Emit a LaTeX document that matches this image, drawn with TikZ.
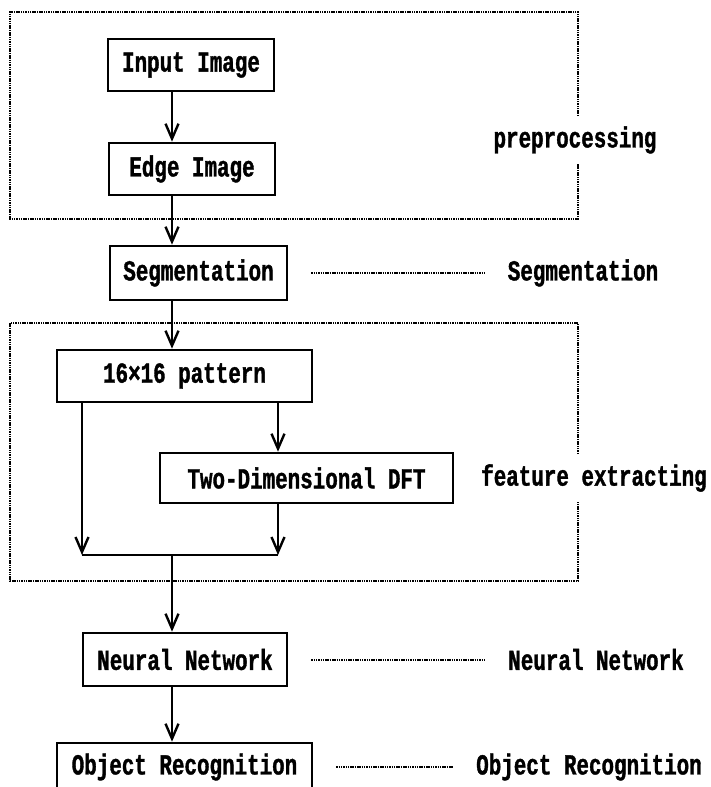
\documentclass[tikz,border=0pt]{standalone}
\usepackage{fontspec}
\newfontfamily\diagfont{Liberation Mono}[FakeStretch=0.72, BoldFeatures={FakeBold=1.2}]
\usepackage{tikz}
\usetikzlibrary{arrows.meta, positioning}
\tikzstyle{block} = [rectangle, draw, line width=2.6pt, minimum height=52pt, inner sep=0pt]
\tikzstyle{sidelabel} = [inner sep=10pt]
\tikzstyle{arrow} = [-{Straight Barb[length=15pt, width=13pt]}, line width=2.4pt]
\tikzstyle{link} = [line width=2.4pt]
\tikzstyle{leader} = [dash pattern=on 1.5pt off 0.8pt, line width=2pt, shorten <=23pt, shorten >=13pt]
\tikzstyle{frame} = [dash pattern=on 1.5pt off 0.8pt, line width=2pt]

\begin{document}
\begin{tikzpicture}[x=1pt, y=-1pt, font={\diagfont\bfseries\fontsize{29}{32}\selectfont}]
\useasboundingbox (0,0) rectangle (710,787);
\clip (0,0) rectangle (710,787);

\coordinate (spine) at (172,0);

\node[block, minimum width=166pt] (inp) at (191,65) {Input Image};
\node[block, minimum width=166pt] (edge) at (192,169) {Edge Image};
\node[block, minimum width=177pt, minimum height=54pt] (seg) at (198.5,273) {Segmentation};
\node[block, minimum width=255pt] (pat) at (184.5,376) {16×16 pattern};
\node[block, minimum width=293pt, minimum height=50pt] (dft) at (306.5,478) {Two-Dimensional DFT};
\node[block, minimum width=204pt, minimum height=53pt] (nn) at (185,659.5) {Neural Network};
\node[block, minimum width=255pt, minimum height=48pt] (obj) at (184.5,767) {Object Recognition};

\node[sidelabel] (prelbl) at (575,140) {preprocessing};
\node[sidelabel] (seglbl) at (583,273) {Segmentation};
\node[sidelabel] (featlbl) at (594,478) {feature extracting};
\node[sidelabel] (nnlbl) at (596,659.5) {Neural Network};
\node[sidelabel] (objlbl) at (589,767) {Object Recognition};

% dotted frames, broken where the side label sits
\coordinate (preNW) at (10,12);
\coordinate (preSE) at (578,219);
\draw[frame] (prelbl.north -| preSE) -- (preSE |- preNW) -- (preNW) -- (preNW |- preSE) -- (preSE) -- (prelbl.south -| preSE);
\coordinate (featNW) at (10,323);
\coordinate (featSE) at (578,581);
\draw[frame] (featlbl.north -| featSE) -- (featSE |- featNW) -- (featNW) -- (featNW |- featSE) -- (featSE) -- (featlbl.south -| featSE);

% main flow
\draw[arrow] (inp.south -| spine) -- (edge.north -| spine);
\draw[arrow] (edge.south -| spine) -- (seg.north -| spine);
\draw[arrow] (seg.south -| spine) -- (pat.north -| spine);

\coordinate (lbr) at (82,555);
\coordinate (rbr) at (278,555);
\draw[arrow] (pat.south -| lbr) -- (lbr);
\draw[arrow] (pat.south -| rbr) -- (dft.north -| rbr);
\draw[arrow] (dft.south -| rbr) -- (rbr);
\draw[link] (lbr) -- (rbr);
\draw[arrow] (lbr -| spine) -- (nn.north -| spine);
\draw[arrow] (nn.south -| spine) -- (obj.north -| spine);

% leaders to the side labels
\draw[leader] (seg.east) -- (seglbl.west);
\draw[leader] (nn.east) -- (nnlbl.west);
\draw[leader] (obj.east) -- (objlbl.west);

\end{tikzpicture}
\end{document}
